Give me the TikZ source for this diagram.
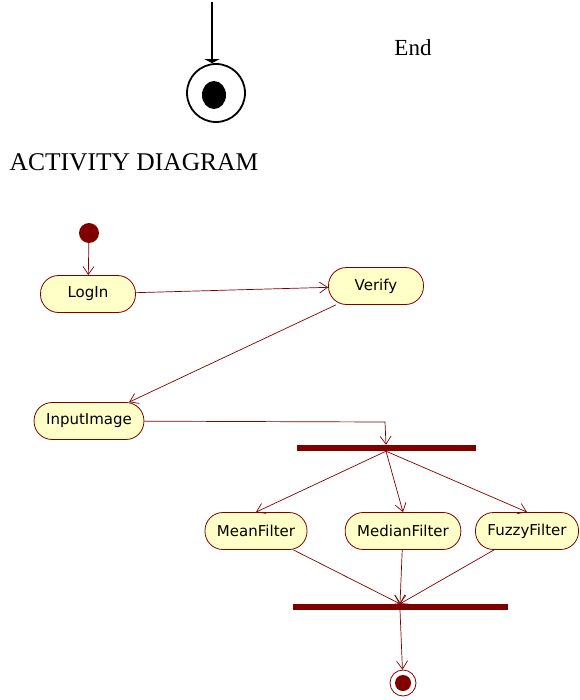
\documentclass[tikz,border=0pt]{standalone}
\usepackage{fontspec}
\setmainfont{Liberation Serif}
\newfontfamily\uifont{DejaVu Sans}
\usetikzlibrary{arrows.meta}
\definecolor{umlred}{RGB}{128,0,0}
\definecolor{umlfill}{RGB}{255,255,200}
\begin{document}
\begin{tikzpicture}[x=1pt,y=-1pt]
\tikzstyle{dep}= [-{Straight Barb[length=8pt,width=11pt]},umlred,line width=0.7pt]
\tikzstyle{act}= [rectangle,rounded corners=18pt,draw=umlred,fill=umlfill,line width=0.8pt,
	minimum height=37pt,minimum width=95pt,inner xsep=12pt,font=\uifont\fontsize{15}{16}\selectfont]
\tikzstyle{bar}= [rectangle,fill=umlred,inner sep=0pt,minimum height=6pt]
\useasboundingbox (0,0) rectangle (579,700);
% legend for the end node
\path
	(212,2) coordinate (top)
	(216,93) node[circle,draw,line width=1.8pt,minimum size=58pt,inner sep=0pt] (endsym) {}
	(413,48) node[font=\fontsize{23}{26}\selectfont] (endlbl) {End}
	(134,162) node[font=\fontsize{25.5}{28}\selectfont] (title) {ACTIVITY DIAGRAM}
;
\fill (214,95) ellipse (12pt and 14pt);
\draw[line width=1.8pt,-{Triangle[length=4pt,width=15pt]}] (top) -- (top |- endsym.north);
% activity diagram
\path
	( 89,233) node[circle,fill=umlred,minimum size=20pt,inner sep=0pt] (init) {}
	( 88,294) node[act] (login) {LogIn}
	(376,286) node[act] (verify) {Verify}
	( 89,421) node[act] (input) {InputImage}
	(386,448) node[bar,minimum width=179pt] (fork) {}
	(256,531) node[act] (mean) {MeanFilter}
	(403,531) node[act] (median) {MedianFilter}
	(527,531) node[act] (fuzzy) {FuzzyFilter}
	(400,607) node[bar,minimum width=215pt] (join) {}
	(403,683) node[circle,draw=umlred,line width=0.8pt,minimum size=26pt,inner sep=0pt] (final) {}
	(385,422) coordinate (bend)
;
\fill[umlred] (final) circle (8pt);
\draw[dep] (init) -- (login);
\draw[dep] (login) -- (verify);
\draw[dep] (verify) -- (input);
\draw[dep] (input) -- (bend) -- (fork.north);
\draw[dep] (fork.south) -- (mean.north);
\draw[dep] (fork.south) -- (median.north);
\draw[dep] (fork.south) -- (fuzzy.north);
\draw[dep] (mean) -- (join.north);
\draw[dep] (median) -- (join.north);
\draw[dep] (fuzzy) -- (join.north);
\draw[dep] (join.south) -- (final);
\end{tikzpicture}
\end{document}
